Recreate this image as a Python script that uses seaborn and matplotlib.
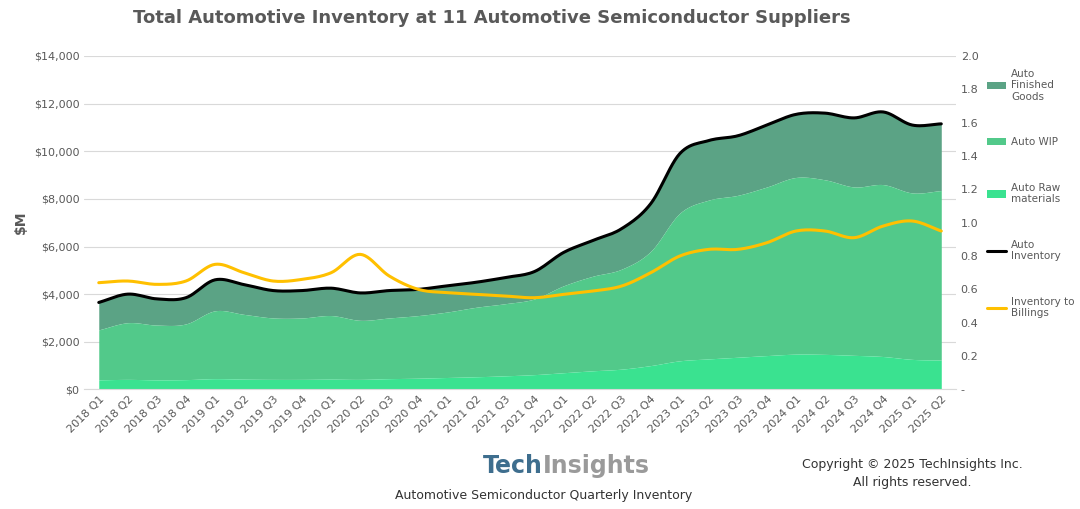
import numpy as np
import pandas as pd
import seaborn as sns
import matplotlib.pyplot as plt
from matplotlib.ticker import FuncFormatter

quarters = [f"{y} Q{q}" for y in range(2018, 2026) for q in range(1, 5)][:30]
raw = [400, 420, 400, 410, 450, 430, 420, 420, 430, 420, 450, 470, 500, 530, 570,
       620, 700, 780, 850, 1000, 1200, 1280, 1350, 1420, 1480, 1470, 1430, 1380, 1260, 1230]
raw_wip = [2500, 2800, 2700, 2750, 3300, 3150, 3000, 3000, 3100, 2900, 3000, 3100, 3250, 3450, 3600,
           3800, 4350, 4750, 5050, 5800, 7400, 7950, 8150, 8500, 8900, 8800, 8500, 8600, 8250, 8350]
total = [3650, 4000, 3800, 3850, 4600, 4400, 4150, 4150, 4250, 4050, 4150, 4200, 4350, 4500, 4700,
         4950, 5750, 6250, 6750, 7800, 9900, 10450, 10650, 11100, 11550, 11600, 11400, 11650, 11100, 11150]
ratio = [0.64, 0.65, 0.63, 0.65, 0.75, 0.70, 0.65, 0.66, 0.70, 0.81, 0.68, 0.60, 0.58, 0.57, 0.56,
         0.55, 0.57, 0.59, 0.62, 0.70, 0.80, 0.84, 0.84, 0.88, 0.95, 0.95, 0.91, 0.98, 1.01, 0.95]

df = pd.DataFrame({"q": quarters, "raw": raw, "wip": raw_wip, "total": total, "ratio": ratio})
df["x"] = np.arange(len(df))

def smooth(x, y, n=12):
    # Catmull-Rom rendering between the read points
    x = np.asarray(x, float); y = np.asarray(y, float)
    px = np.concatenate([[2*x[0]-x[1]], x, [2*x[-1]-x[-2]]])
    py = np.concatenate([[2*y[0]-y[1]], y, [2*y[-1]-y[-2]]])
    xs, ys = [], []
    for i in range(1, len(px)-2):
        t = np.linspace(0, 1, n, endpoint=False)
        for p, out in ((px, xs), (py, ys)):
            p0, p1, p2, p3 = p[i-1], p[i], p[i+1], p[i+2]
            out.extend(0.5*((2*p1) + (-p0+p2)*t + (2*p0-5*p1+4*p2-p3)*t**2 + (-p0+3*p1-3*p2+p3)*t**3))
    xs.append(x[-1]); ys.append(y[-1])
    return np.array(xs), np.array(ys)

sns.set_style("white")
plt.rcParams['font.family'] = ['DejaVu Sans']
fig = plt.figure(figsize=(10.8, 5.09), dpi=100)
ax = fig.add_axes([0.078, 0.235, 0.807, 0.655])
ax2 = ax.twinx()

sx, s_raw = smooth(df.x, df.raw)
_, s_wip = smooth(df.x, df.wip)
_, s_tot = smooth(df.x, df.total)
_, s_rat = smooth(df.x, df.ratio)

ax.fill_between(sx, s_wip, s_tot, color="#5BA385", lw=0, label="Auto\nFinished\nGoods")
ax.fill_between(sx, s_raw, s_wip, color="#52C98A", lw=0, label="Auto WIP")
ax.fill_between(sx, 0, s_raw, color="#3AE290", lw=0, label="Auto Raw\nmaterials")
sns.lineplot(x=sx, y=s_tot, ax=ax, color="black", lw=2.2, label="Auto\nInventory", sort=False)
sns.lineplot(x=sx, y=s_rat, ax=ax2, color="#FFC000", lw=2.2, label="Inventory to\nBillings", sort=False)

ax.set_ylim(0, 14000)
ax2.set_ylim(0, 2.0)
ax.set_xlim(-0.5, 29.5)
ax.set_yticks(range(0, 14001, 2000))
ax.yaxis.set_major_formatter(FuncFormatter(lambda v, p: f"${v:,.0f}"))
ax2.set_yticks(np.arange(0, 2.01, 0.2))
ax2.yaxis.set_major_formatter(FuncFormatter(lambda v, p: "-" if v < 0.01 else f"{v:.1f}"))
ax.set_xticks(df.x)
ax.set_xticklabels(quarters, rotation=45, ha="right", rotation_mode="anchor", fontsize=8, color="#595959")
ax.tick_params(axis="y", labelsize=8, labelcolor="#595959", length=0)
ax2.tick_params(axis="y", labelsize=8, labelcolor="#595959", length=0)
ax.tick_params(axis="x", length=0)
ax.grid(axis="y", color="#D9D9D9", lw=0.8)
ax.set_axisbelow(True)
for a in (ax, ax2):
    for s in a.spines.values():
        s.set_visible(False)
ax.spines["bottom"].set_visible(True)
ax.spines["bottom"].set_color("#D9D9D9")
ax.set_ylabel("$M", fontsize=10, color="#595959", fontweight="bold")

h1, l1 = ax.get_legend_handles_labels()
h2, l2 = ax2.get_legend_handles_labels()
if ax2.get_legend():
    ax2.get_legend().remove()
ax.legend(h1 + h2, l1 + l2, loc="upper left", bbox_to_anchor=(1.025, 0.99), frameon=False,
          fontsize=7.5, labelcolor="#595959", labelspacing=3.4, handlelength=1.8, handletextpad=0.5)

fig.text(0.455, 0.965, "Total Automotive Inventory at 11 Automotive Semiconductor Suppliers",
         ha="center", va="center", fontsize=13, fontweight="bold", color="#595959")
fig.text(0.503, 0.085, "Tech", ha="right", va="center", fontsize=17, fontweight="bold", color="#3E6E8E")
fig.text(0.503, 0.085, "Insights", ha="left", va="center", fontsize=17, fontweight="bold", color="#9A9A9A")
fig.text(0.503, 0.027, "Automotive Semiconductor Quarterly Inventory", ha="center", va="center", fontsize=9, color="#333333")
fig.text(0.845, 0.07, "Copyright © 2025 TechInsights Inc.\nAll rights reserved.", ha="center", va="center",
         fontsize=9, color="#333333", linespacing=1.5)

fig.savefig("out.png", dpi=100)
